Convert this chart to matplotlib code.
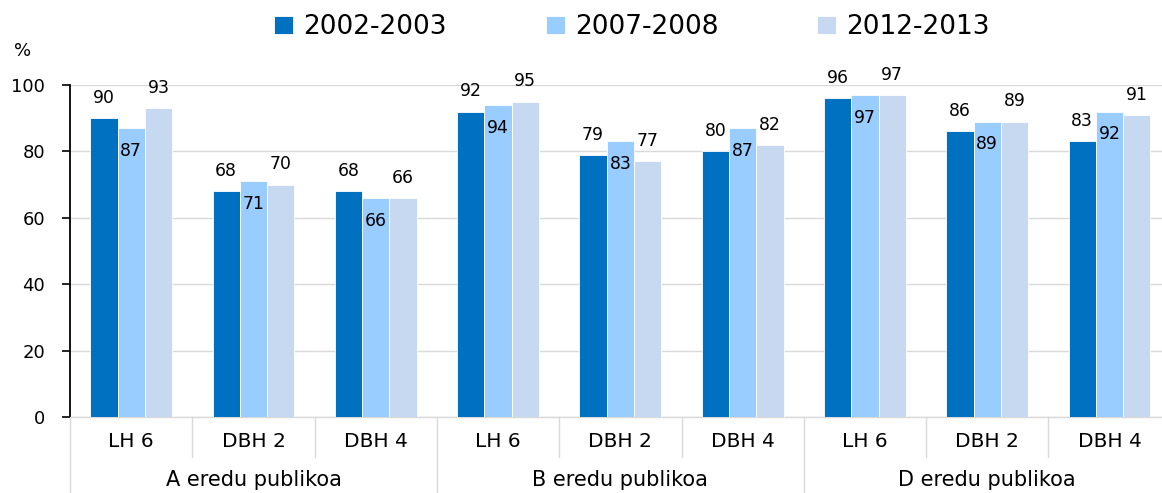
import matplotlib
matplotlib.use("Agg")
import matplotlib.pyplot as plt
import numpy as np

plt.rcParams['font.family'] = ['DejaVu Sans']

series_names = ["2002-2003", "2007-2008", "2012-2013"]
colors = ["#0070C0", "#99CCFF", "#C6D9F1"]
subcats = ["LH 6", "DBH 2", "DBH 4"] * 3
groups = ["A eredu publikoa", "B eredu publikoa", "D eredu publikoa"]
s2002 = [90, 68, 68, 92, 79, 80, 96, 86, 83]
s2007 = [87, 71, 66, 94, 83, 87, 97, 89, 92]
s2012 = [93, 70, 66, 95, 77, 82, 97, 89, 91]
values = [s2002, s2007, s2012]

W, H = 1162, 493
fig = plt.figure(figsize=(W / 100, H / 100), dpi=100)
left, right, top, bottom = 70, 1170.7, 85, 417
ax = fig.add_axes([left / W, (H - bottom) / H, (right - left) / W, (bottom - top) / H])

x = np.arange(len(subcats))
bw = 0.223
for k, (vals, c, name) in enumerate(zip(values, colors, series_names)):
    pos = x + (k - 1) * bw
    ax.bar(pos, vals, width=bw, color=c, label=name, edgecolor='white', linewidth=0.6, zorder=3)
    for xi, v in zip(pos, vals):
        off = -16.5 if k == 1 else 14.5
        ax.annotate(str(v), (xi, v), xytext=(0, off), textcoords='offset points',
                    ha='center', va='center', fontsize=12.4, color='#000000', zorder=4)

ax.set_xlim(-0.5, len(subcats) - 0.5)
ax.set_ylim(0, 100)
ax.set_yticks(range(0, 101, 20))
ax.yaxis.grid(True, color='#D9D9D9', linewidth=1.0, zorder=0)
ax.set_axisbelow(True)
for s in ['top', 'right']:
    ax.spines[s].set_visible(False)
ax.spines['bottom'].set_color('#D9D9D9')
ax.spines['bottom'].set_linewidth(1.0)
ax.spines['left'].set_color('#000000')
ax.spines['left'].set_linewidth(1.3)
ax.tick_params(axis='y', length=6, width=1.2, direction='out', labelsize=13, pad=12)
ax.set_xticks(x)
ax.set_xticklabels(subcats, fontsize=14.5)
ax.tick_params(axis='x', length=0, pad=11)

trans = ax.get_xaxis_transform()
hpx = bottom - top
short = -40 / hpx
long_ = -80 / hpx
for b in np.arange(-0.5, len(subcats), 1.0):
    i = int(round(b + 0.5))
    y2 = long_ if i % 3 == 0 else short
    ax.plot([b, b], [0, y2], transform=trans, color='#D9D9D9', linewidth=1.0, clip_on=False)

for g, name in enumerate(groups):
    ax.text(3 * g + 1, -(480 - bottom) / hpx, name, transform=trans,
            ha='center', va='center', fontsize=15)

fig.text(23 / W, 1 - 51 / H, "%", ha='center', va='center', fontsize=13)

fig.legend(loc='center', bbox_to_anchor=(632 / W, 1 - 27 / H), ncol=3, frameon=False,
           fontsize=19, handlelength=0.72, handleheight=0.65, handletextpad=0.38,
           columnspacing=3.75, borderpad=0, borderaxespad=0)

fig.savefig("out.png", dpi=100)
